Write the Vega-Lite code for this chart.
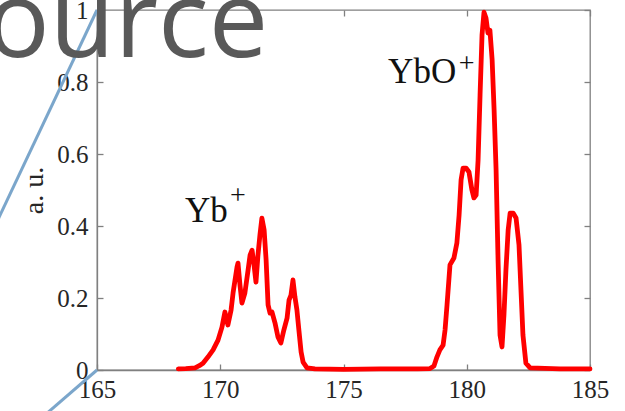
{
  "$schema": "https://vega.github.io/schema/vega-lite/v6.json",
  "width": 493,
  "height": 360,
  "autosize": "none",
  "padding": {"left": 97, "top": 10, "right": 35, "bottom": 41},
  "background": "white",
  "config": {
    "view": {"stroke": "#808080", "strokeWidth": 1.3},
    "axis": {"grid": false}
  },
  "datasets": {
    "spectrum": [
      {"mz": 168.3, "i": 0.003}, {"mz": 168.6, "i": 0.004}, {"mz": 168.98, "i": 0.006}, {"mz": 169.15, "i": 0.012},
      {"mz": 169.3, "i": 0.019}, {"mz": 169.5, "i": 0.036}, {"mz": 169.71, "i": 0.056}, {"mz": 169.91, "i": 0.083},
      {"mz": 170.07, "i": 0.119}, {"mz": 170.19, "i": 0.161}, {"mz": 170.31, "i": 0.125}, {"mz": 170.44, "i": 0.167},
      {"mz": 170.52, "i": 0.214}, {"mz": 170.68, "i": 0.286}, {"mz": 170.72, "i": 0.297}, {"mz": 170.8, "i": 0.236},
      {"mz": 170.88, "i": 0.186}, {"mz": 171.0, "i": 0.214}, {"mz": 171.13, "i": 0.278}, {"mz": 171.21, "i": 0.319},
      {"mz": 171.29, "i": 0.333}, {"mz": 171.37, "i": 0.292}, {"mz": 171.45, "i": 0.244}, {"mz": 171.53, "i": 0.319},
      {"mz": 171.61, "i": 0.375}, {"mz": 171.69, "i": 0.422}, {"mz": 171.78, "i": 0.389}, {"mz": 171.86, "i": 0.306},
      {"mz": 171.94, "i": 0.181}, {"mz": 172.02, "i": 0.158}, {"mz": 172.1, "i": 0.161}, {"mz": 172.22, "i": 0.131},
      {"mz": 172.34, "i": 0.092}, {"mz": 172.46, "i": 0.075}, {"mz": 172.58, "i": 0.111}, {"mz": 172.71, "i": 0.144},
      {"mz": 172.79, "i": 0.194}, {"mz": 172.87, "i": 0.208}, {"mz": 172.95, "i": 0.25}, {"mz": 173.03, "i": 0.203},
      {"mz": 173.11, "i": 0.167}, {"mz": 173.19, "i": 0.111}, {"mz": 173.28, "i": 0.05}, {"mz": 173.36, "i": 0.022},
      {"mz": 173.52, "i": 0.006}, {"mz": 173.84, "i": 0.003}, {"mz": 175.0, "i": 0.002}, {"mz": 176.5, "i": 0.003},
      {"mz": 178.0, "i": 0.003}, {"mz": 178.51, "i": 0.004}, {"mz": 178.67, "i": 0.011}, {"mz": 178.79, "i": 0.036},
      {"mz": 178.91, "i": 0.056}, {"mz": 179.04, "i": 0.069}, {"mz": 179.12, "i": 0.111}, {"mz": 179.2, "i": 0.181},
      {"mz": 179.32, "i": 0.292}, {"mz": 179.48, "i": 0.311}, {"mz": 179.6, "i": 0.353}, {"mz": 179.69, "i": 0.431},
      {"mz": 179.77, "i": 0.528}, {"mz": 179.85, "i": 0.561}, {"mz": 179.97, "i": 0.561}, {"mz": 180.09, "i": 0.55},
      {"mz": 180.21, "i": 0.5}, {"mz": 180.29, "i": 0.478}, {"mz": 180.38, "i": 0.486}, {"mz": 180.46, "i": 0.583},
      {"mz": 180.54, "i": 0.764}, {"mz": 180.62, "i": 0.931}, {"mz": 180.7, "i": 0.994}, {"mz": 180.78, "i": 0.978},
      {"mz": 180.86, "i": 0.936}, {"mz": 180.94, "i": 0.944}, {"mz": 181.03, "i": 0.861}, {"mz": 181.11, "i": 0.722},
      {"mz": 181.19, "i": 0.556}, {"mz": 181.27, "i": 0.306}, {"mz": 181.35, "i": 0.097}, {"mz": 181.43, "i": 0.064},
      {"mz": 181.51, "i": 0.153}, {"mz": 181.59, "i": 0.278}, {"mz": 181.68, "i": 0.389}, {"mz": 181.76, "i": 0.436},
      {"mz": 181.88, "i": 0.436}, {"mz": 182.0, "i": 0.422}, {"mz": 182.12, "i": 0.347}, {"mz": 182.2, "i": 0.222},
      {"mz": 182.28, "i": 0.097}, {"mz": 182.4, "i": 0.019}, {"mz": 182.57, "i": 0.006}, {"mz": 183.78, "i": 0.003},
      {"mz": 185.0, "i": 0.003}
    ],
    "ions": [
      {"label": "Yb", "mz": 168.57, "i": 0.411},
      {"label": "YbO", "mz": 176.81, "i": 0.797}
    ],
    "charges": [
      {"label": "+", "mz": 170.72, "i": 0.483},
      {"label": "+", "mz": 180.0, "i": 0.85}
    ],
    "deco": [
      {"mz": 160.25, "i": 0.312, "mz2": 165.0, "i2": 1.0},
      {"mz": 165.0, "i": 0.0, "mz2": 162.28, "i2": -0.161}
    ],
    "heading": [
      {"label": "Source", "mz": 171.95, "i": 0.869}
    ]
  },
  "layer": [
    {
      "data": {"name": "spectrum"},
      "mark": {"type": "line", "color": "#ff0000", "strokeWidth": 4.8, "strokeJoin": "round", "strokeCap": "round"},
      "encoding": {
        "x": {
          "field": "mz", "type": "quantitative",
          "scale": {"domain": [165, 185], "nice": false, "zero": false},
          "axis": {
            "orient": "bottom", "title": null, "values": [165, 170, 175, 180, 185],
            "labelFont": "Liberation Serif", "labelFontSize": 25, "labelColor": "#262626",
            "tickSize": -6, "tickWidth": 1.3, "tickColor": "#808080",
            "domainColor": "#808080", "domainWidth": 1.3,
            "labelPadding": 13, "labelOverlap": false, "labelFlush": false, "labelBound": false
          }
        },
        "y": {
          "field": "i", "type": "quantitative",
          "scale": {"domain": [0, 1], "nice": false},
          "axis": {
            "orient": "left", "title": "a. u.", "values": [0, 0.2, 0.4, 0.6, 0.8, 1],
            "labelExpr": "format(datum.value, '~g')",
            "labelFont": "Liberation Serif", "labelFontSize": 25, "labelColor": "#262626",
            "titleFont": "Liberation Serif", "titleFontSize": 28, "titleColor": "#262626", "titleFontWeight": "normal",
            "titlePadding": 8,
            "tickSize": -6, "tickWidth": 1.3, "tickColor": "#808080",
            "domainColor": "#808080", "domainWidth": 1.3,
            "labelPadding": 15, "labelOverlap": false, "labelFlush": false, "labelBound": false
          }
        }
      }
    },
    {
      "data": {"name": "spectrum"},
      "mark": {"type": "line", "opacity": 0},
      "encoding": {
        "x": {
          "field": "mz", "type": "quantitative",
          "axis": {"orient": "top", "title": null, "labels": false, "domain": false, "values": [165, 170, 175, 180, 185], "tickSize": -6, "tickWidth": 1.3, "tickColor": "#808080"}
        },
        "y": {
          "field": "i", "type": "quantitative",
          "axis": {"orient": "right", "title": null, "labels": false, "domain": false, "values": [0, 0.2, 0.4, 0.6, 0.8, 1], "tickSize": -6, "tickWidth": 1.3, "tickColor": "#808080"}
        }
      }
    },
    {
      "data": {"name": "deco"},
      "mark": {"type": "rule", "color": "#7ba6cb", "strokeWidth": 3},
      "encoding": {
        "x": {"field": "mz", "type": "quantitative", "axis": null},
        "y": {"field": "i", "type": "quantitative", "axis": null},
        "x2": {"field": "mz2"},
        "y2": {"field": "i2"}
      }
    },
    {
      "data": {"name": "ions"},
      "mark": {"type": "text", "font": "Liberation Serif", "fontSize": 35, "color": "#111111", "align": "left", "baseline": "alphabetic"},
      "encoding": {
        "x": {"field": "mz", "type": "quantitative", "axis": null},
        "y": {"field": "i", "type": "quantitative", "axis": null},
        "text": {"field": "label"}
      }
    },
    {
      "data": {"name": "charges"},
      "mark": {"type": "text", "font": "Liberation Serif", "fontSize": 28, "color": "#111111", "align": "center", "baseline": "middle"},
      "encoding": {
        "x": {"field": "mz", "type": "quantitative", "axis": null},
        "y": {"field": "i", "type": "quantitative", "axis": null},
        "text": {"field": "label"}
      }
    },
    {
      "data": {"name": "heading"},
      "mark": {"type": "text", "font": "Open Sans", "fontSize": 106, "color": "#595959", "align": "right", "baseline": "alphabetic"},
      "encoding": {
        "x": {"field": "mz", "type": "quantitative", "axis": null},
        "y": {"field": "i", "type": "quantitative", "axis": null},
        "text": {"field": "label"}
      }
    }
  ],
  "resolve": {"axis": {"x": "independent", "y": "independent"}}
}
